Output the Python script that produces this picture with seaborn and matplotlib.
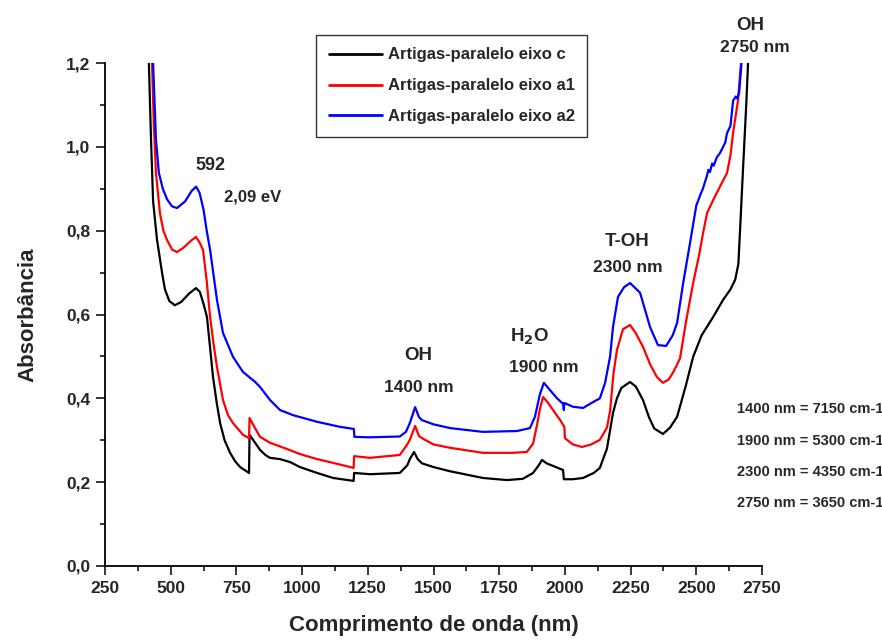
import numpy as np
import pandas as pd
import matplotlib
matplotlib.use("Agg")
import matplotlib.pyplot as plt
import seaborn as sns
from matplotlib.ticker import MultipleLocator, FuncFormatter

# ---------------- data ----------------
c_x = [417, 425, 433, 448, 467, 478, 495, 516, 540, 570, 596, 611, 625, 638, 650, 661, 675, 688, 705, 726,
       745, 764, 798, 800, 820, 840, 860, 878, 916, 954, 992, 1057, 1118, 1196, 1198, 1258, 1372, 1400, 1410,
       1426, 1440, 1456, 1500, 1563, 1688, 1780, 1840, 1879, 1900, 1913, 1930, 1950, 1993, 1996, 2030, 2069,
       2110, 2133, 2160, 2183, 2198, 2215, 2248, 2270, 2297, 2320, 2340, 2373, 2400, 2427, 2460, 2488, 2520,
       2564, 2602, 2630, 2648, 2660, 2666, 2678, 2690, 2697]
c_y = [1.2, 1.02, 0.87, 0.778, 0.70, 0.66, 0.632, 0.622, 0.63, 0.65, 0.663, 0.654, 0.625, 0.594, 0.52, 0.451,
       0.39, 0.341, 0.30, 0.270, 0.25, 0.236, 0.222, 0.313, 0.295, 0.277, 0.265, 0.258, 0.255, 0.248, 0.236,
       0.222, 0.210, 0.203, 0.222, 0.219, 0.222, 0.24, 0.255, 0.272, 0.255, 0.245, 0.236, 0.226, 0.210, 0.205,
       0.208, 0.222, 0.24, 0.253, 0.245, 0.24, 0.229, 0.207, 0.207, 0.210, 0.222, 0.234, 0.28, 0.365, 0.40,
       0.425, 0.439, 0.428, 0.396, 0.355, 0.328, 0.315, 0.33, 0.356, 0.43, 0.499, 0.55, 0.594, 0.635, 0.66,
       0.683, 0.72, 0.795, 0.95, 1.1, 1.2]

a1_x = [429, 436, 444, 459, 472, 486, 505, 524, 550, 575, 596, 610, 623, 637, 650, 663, 676, 699, 718, 737, 775,
        798, 800, 820, 840, 878, 943, 992, 1057, 1118, 1196, 1198, 1258, 1372, 1400, 1410, 1430, 1445, 1456,
        1500, 1563, 1688, 1800, 1855, 1879, 1895, 1905, 1917, 1935, 1955, 1980, 1998, 2000, 2030, 2065, 2100,
        2133, 2160, 2172, 2185, 2198, 2221, 2248, 2270, 2297, 2325, 2350, 2373, 2395, 2411, 2438, 2460, 2488,
        2510, 2526, 2541, 2564, 2590, 2617, 2630, 2640, 2659, 2670]
a1_y = [1.2, 1.05, 0.938, 0.842, 0.80, 0.778, 0.755, 0.749, 0.76, 0.775, 0.785, 0.772, 0.754, 0.68, 0.594, 0.53,
        0.475, 0.396, 0.36, 0.341, 0.313, 0.305, 0.353, 0.33, 0.308, 0.294, 0.279, 0.267, 0.255, 0.246, 0.234,
        0.262, 0.258, 0.265, 0.29, 0.301, 0.334, 0.31, 0.305, 0.29, 0.282, 0.270, 0.27, 0.272, 0.292, 0.34,
        0.375, 0.403, 0.39, 0.372, 0.35, 0.332, 0.305, 0.29, 0.284, 0.29, 0.301, 0.33, 0.37, 0.46, 0.515, 0.565,
        0.575, 0.555, 0.523, 0.48, 0.451, 0.437, 0.445, 0.461, 0.495, 0.58, 0.675, 0.74, 0.795, 0.842, 0.873,
        0.905, 0.938, 0.98, 1.033, 1.112, 1.2]

a2_x = [433, 444, 455, 470, 486, 505, 524, 555, 580, 597, 610, 625, 637, 650, 676, 699, 737, 775, 802, 820,
        840, 878, 916, 965, 1057, 1144, 1197, 1199, 1258, 1372, 1395, 1410, 1430, 1445, 1456, 1500, 1563, 1688,
        1818, 1867, 1886, 1905, 1920, 1943, 1970, 1993, 1996, 1998, 2030, 2069, 2107, 2133, 2153, 2172, 2183,
        2202, 2225, 2248, 2286, 2324, 2354, 2385, 2410, 2427, 2450, 2476, 2500, 2515, 2525, 2540, 2546, 2552,
        2560, 2566, 2578, 2590, 2602, 2610, 2617, 2630, 2640, 2650, 2656, 2663, 2672]
a2_y = [1.2, 1.017, 0.938, 0.9, 0.875, 0.858, 0.854, 0.87, 0.895, 0.905, 0.89, 0.85, 0.8, 0.754, 0.635, 0.556,
        0.499, 0.463, 0.449, 0.44, 0.427, 0.396, 0.372, 0.360, 0.344, 0.332, 0.327, 0.308, 0.307, 0.309, 0.32,
        0.341, 0.379, 0.355, 0.348, 0.338, 0.329, 0.320, 0.322, 0.329, 0.356, 0.41, 0.437, 0.420, 0.40, 0.387,
        0.372, 0.389, 0.38, 0.377, 0.391, 0.40, 0.437, 0.50, 0.570, 0.642, 0.665, 0.675, 0.652, 0.570, 0.527,
        0.525, 0.55, 0.580, 0.675, 0.77, 0.86, 0.885, 0.90, 0.93, 0.945, 0.94, 0.96, 0.955, 0.975, 0.985, 1.0,
        1.01, 1.033, 1.05, 1.11, 1.12, 1.115, 1.13, 1.2]

series_names = ["Artigas-paralelo eixo c", "Artigas-paralelo eixo a1", "Artigas-paralelo eixo a2"]
series_colors = ["#000000", "#ff0000", "#0000ff"]

xticks = [250, 500, 750, 1000, 1250, 1500, 1750, 2000, 2250, 2500, 2750]
yticks = [0.0, 0.2, 0.4, 0.6, 0.8, 1.0, 1.2]

# ---------------- plot ----------------
sns.set_style("ticks")
plt.rcParams['font.family'] = ['Liberation Sans', 'DejaVu Sans']
plt.rcParams['font.weight'] = 'bold'

W, H = 882, 640
fig = plt.figure(figsize=(W / 100, H / 100), dpi=100)
ax = fig.add_axes([105 / W, 1 - 566 / H, (762 - 105) / W, (566 - 63) / H])

for xs, ys, name, col in zip([c_x, a1_x, a2_x], [c_y, a1_y, a2_y], series_names, series_colors):
    df = pd.DataFrame({"x": xs, "y": ys})
    sns.lineplot(data=df, x="x", y="y", ax=ax, color=col, lw=1.6, label=name,
                 estimator=None, sort=False)

ax.set_xlim(250, 2750)
ax.set_ylim(0, 1.2)
ax.set_xticks(xticks)
ax.set_yticks(yticks)
ax.xaxis.set_minor_locator(MultipleLocator(125))
ax.yaxis.set_minor_locator(MultipleLocator(0.1))
ax.yaxis.set_major_formatter(FuncFormatter(lambda v, p: f"{v:.1f}".replace(".", ",")))
ax.tick_params(axis="both", which="major", length=6.5, width=1.3, direction="out", labelsize=12.5, pad=4)
ax.tick_params(axis="both", which="minor", length=3.8, width=1.3, direction="out")
for lab in ax.get_xticklabels() + ax.get_yticklabels():
    lab.set_fontweight("bold")
sns.despine(ax=ax)
for s in ["left", "bottom"]:
    ax.spines[s].set_linewidth(1.3)
    ax.spines[s].set_color("black")

ax.set_xlabel("Comprimento de onda (nm)", fontsize=16, fontweight="bold", labelpad=14)
ax.set_ylabel("Absorbância", fontsize=16, fontweight="bold", labelpad=20)

leg = ax.legend(loc="upper left", bbox_to_anchor=(316 / W, 1 - 35 / H), bbox_transform=fig.transFigure,
                frameon=True, fancybox=False, fontsize=12, handlelength=3.2, borderpad=0.75,
                labelspacing=0.95, handletextpad=0.35, borderaxespad=0)
leg.get_frame().set_edgecolor("black")
leg.get_frame().set_linewidth(1.0)
for t in leg.get_texts():
    t.set_fontweight("bold")
for l in leg.get_lines():
    l.set_linewidth(2.0)

def ftext(px, py, s, size=12.5, ha="center"):
    fig.text(px / W, 1 - py / H, s, fontsize=size, fontweight="bold", ha=ha, va="center")

ftext(210, 165, "592", size=13)
ftext(253, 197, "2,09 eV", size=12)
ftext(418, 356, "OH", size=13.5)
ftext(419, 387, "1400 nm", size=12.5)
ftext(530, 337, r"H$_\mathbf{2}$O", size=13.5)
ftext(544, 367, "1900 nm", size=12.5)
ftext(627, 242, "T-OH", size=13.5)
ftext(628, 268, "2300 nm", size=12.5)
ftext(750, 25, "OH", size=13.5)
ftext(755, 48, "2750 nm", size=12.5)
for py, s in zip([409, 441, 472, 503], ["1400 nm = 7150 cm-1", "1900 nm = 5300 cm-1",
                                        "2300 nm = 4350 cm-1", "2750 nm = 3650 cm-1"]):
    ftext(737, py, s, size=10.5, ha="left")

fig.savefig("out.png", dpi=100)
